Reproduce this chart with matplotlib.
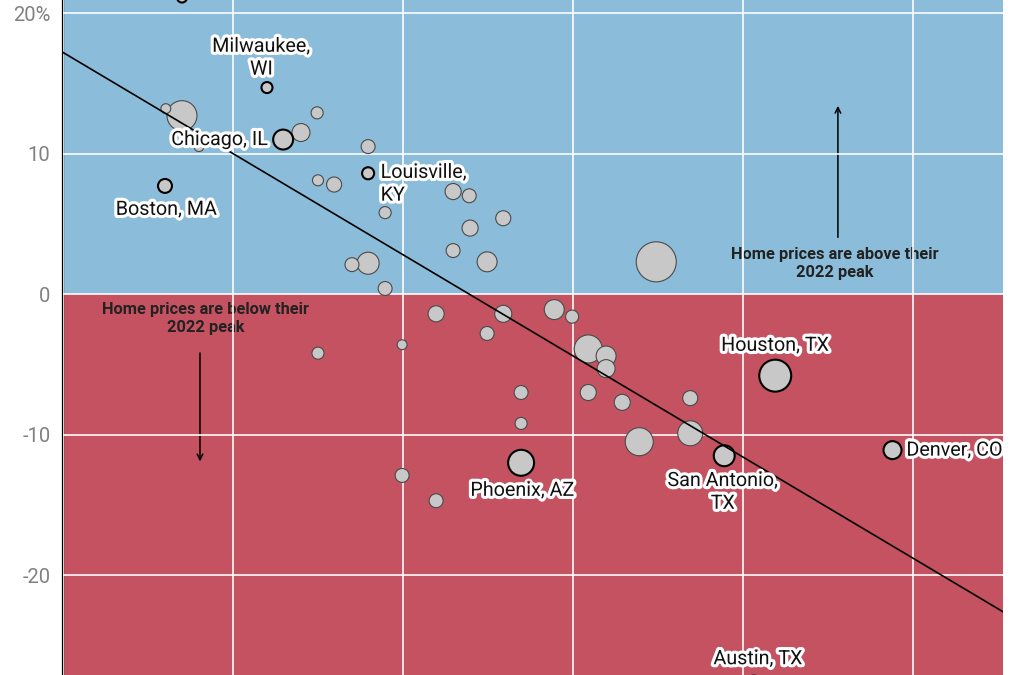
import numpy as np
import matplotlib
matplotlib.use('Agg')
import matplotlib.pyplot as plt
import matplotlib.patheffects as pe

plt.rcParams['font.family'] = ['Roboto', 'DejaVu Sans']

# metro data (x: change in inventory, y: home price change vs 2022 peak, %)
metro = ['', 'Milwaukee,\nWI', '', '', '', 'Chicago, IL', '', '', 'Boston, MA', '',
         '', '', 'Louisville,\nKY', '', '', '', '', '', '', '',
         '', '', '', '', '', '', '', '', '', '',
         '', '', '', '', '', '', '', '', '', '',
         '', 'Phoenix, AZ', 'San Antonio,\nTX', 'Houston, TX', 'Denver, CO', '', '', 'Austin, TX']
x_vals = [-46.0, -36.0, -47.9, -46.0, -44.0, -34.1, -32.0, -30.1, -48.0, -30.0,
          -28.1, -24.1, -24.1, -14.1, -12.2, -22.1, -8.2, -12.1, -14.1, -10.1,
          -26.0, -24.1, 9.8, -22.1, -16.1, -8.2, -2.2, -0.1, -10.1, -20.1,
          1.8, 3.9, 3.9, -30.0, -6.1, 1.8, 5.8, 13.8, -6.1, 7.8,
          13.8, -6.1, 17.8, 23.8, 37.6, -20.1, -16.1, 21.3]
y_vals = [21.1, 14.7, 13.2, 12.7, 10.5, 11.0, 11.5, 12.9, 7.7, 8.1,
          7.8, 10.5, 8.6, 7.3, 7.0, 5.8, 5.4, 4.7, 3.1, 2.3,
          2.1, 2.2, 2.3, 0.4, -1.4, -1.4, -1.1, -1.6, -2.8, -3.6,
          -3.9, -4.4, -5.3, -4.2, -7.0, -7.0, -7.7, -7.4, -9.2, -10.5,
          -9.9, -12.0, -11.5, -5.8, -11.1, -12.9, -14.7, -28.0]
pop_vals = [1.2, 1.5, 1.2, 11.1, 1.2, 4.9, 4.0, 1.8, 2.4, 1.5,
            2.8, 2.4, 1.8, 3.2, 2.4, 1.8, 2.8, 3.2, 2.4, 4.9,
            2.4, 6.0, 19.8, 2.4, 3.2, 3.6, 4.9, 2.1, 2.4, 1.2,
            9.7, 4.9, 4.0, 1.8, 2.4, 3.2, 3.2, 2.8, 1.8, 9.7,
            7.7, 8.3, 5.4, 12.6, 4.0, 2.4, 2.4, 7.1]
outlined = [0, 1, 5, 8, 12, 41, 42, 43, 44, 47]

# fitted trend line
trend_x = [-60, 50.6]
trend_y = [17.2, -22.6]

y_ticks = [20, 10, 0, -10, -20]
y_ticklabels = ['20%', '10', '0', '-10', '-20']
x_ticks = [-60, -40, -20, 0, 20, 40]

BLUE = '#8bbdda'
RED = '#c45261'

fig = plt.figure(figsize=(10.24, 6.75), dpi=100)
ax = fig.add_axes([63 / 1024, 0, 940 / 1024, 1])
ax.set_xlim(-60, 50.6)
ax.set_ylim(-27.1, 20.93)

ax.axhspan(0, 40, color=BLUE, zorder=0, lw=0)
ax.axhspan(-40, 0, color=RED, zorder=0, lw=0)

ax.set_axisbelow(False)
ax.grid(True, color='white', lw=1.3, alpha=0.9, zorder=2.5)
ax.set_xticks(x_ticks)
ax.set_yticks(y_ticks)
ax.set_yticklabels(y_ticklabels, color='#808080', fontsize=14.5)
ax.tick_params(axis='both', length=0, pad=9)
ax.tick_params(axis='x', labelbottom=False)
for s in ['top', 'right', 'bottom']:
    ax.spines[s].set_visible(False)
ax.spines['left'].set_linewidth(1.6)
ax.spines['left'].set_color('black')

x = np.array(x_vals)
y = np.array(y_vals)
pop = np.array(pop_vals)
sizes = 42 * pop
order = np.argsort(-pop)
plain = [i for i in order if i not in outlined]
ax.scatter(x[plain], y[plain], s=sizes[plain], c='#c8c8c8', edgecolors='#4a4a4a',
           linewidths=0.8, zorder=3)
hl = [i for i in order if i in outlined]
ax.scatter(x[hl], y[hl], s=sizes[hl], c='#c8c8c8', edgecolors='black',
           linewidths=1.5, zorder=3.5)

ax.plot(trend_x, trend_y, color='black', lw=1.2, zorder=4)

# city labels (offset in points, alignment)
label_pos = {
    1: ((-4, 6.5), 'center', 'bottom'),
    5: ((-11, 0), 'right', 'center'),
    8: ((1, -10), 'center', 'top'),
    12: ((9, 7.5), 'left', 'top'),
    41: ((1, -13), 'center', 'top'),
    42: ((-1, -11), 'center', 'top'),
    43: ((0, 15), 'center', 'bottom'),
    44: ((10, 0), 'left', 'center'),
    47: ((3, 14), 'center', 'bottom'),
}
stroke = [pe.withStroke(linewidth=4.5, foreground='white')]
for i, (off, ha, va) in label_pos.items():
    ax.annotate(metro[i], (x[i], y[i]), xytext=off, textcoords='offset points',
                ha=ha, va=va, fontsize=14.2, color='#111111', linespacing=1.25,
                path_effects=stroke, zorder=6, annotation_clip=False)

# region notes
ax.text(-60 + (206 - 63) / 8.5, 20 - (302 - 13) / 14.05,
        'Home prices are below their\n2022 peak', ha='center', va='top',
        fontsize=11.8, fontweight='bold', color='#222222', zorder=2, linespacing=1.25)
ax.annotate('', xy=(-60 + (200 - 63) / 8.5, 20 - (464 - 13) / 14.05),
            xytext=(-60 + (200 - 63) / 8.5, 20 - (350 - 13) / 14.05),
            arrowprops=dict(arrowstyle='->', color='black', lw=1.1), zorder=2)
ax.text(-60 + (835 - 63) / 8.5, 20 - (247 - 13) / 14.05,
        'Home prices are above their\n2022 peak', ha='center', va='top',
        fontsize=11.8, fontweight='bold', color='#222222', zorder=2, linespacing=1.25)
ax.annotate('', xy=(-60 + (838 - 63) / 8.5, 20 - (103 - 13) / 14.05),
            xytext=(-60 + (838 - 63) / 8.5, 20 - (240 - 13) / 14.05),
            arrowprops=dict(arrowstyle='->', color='black', lw=1.1), zorder=2)

fig.savefig('out.png', dpi=100)
